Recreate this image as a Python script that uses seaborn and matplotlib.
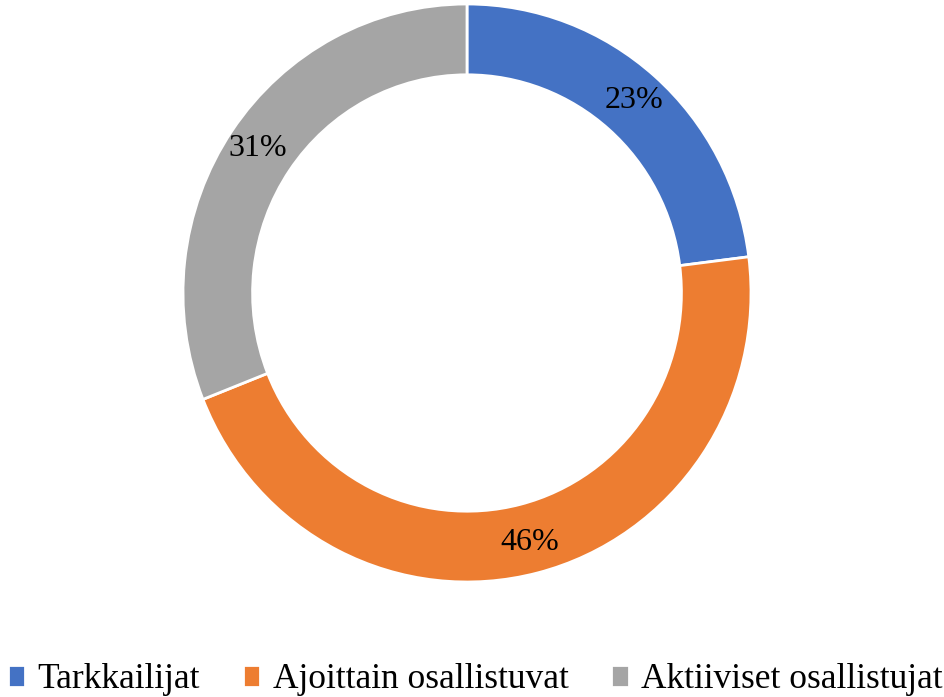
import matplotlib
matplotlib.use("Agg")
import matplotlib.pyplot as plt
import seaborn as sns

labels = ["Tarkkailijat", "Ajoittain osallistuvat", "Aktiiviset osallistujat"]
shares = [23, 46, 31]
colors = ["#4472C4", "#ED7D31", "#A5A5A5"]

sns.set_style("white")
plt.rcParams["font.family"] = ["Liberation Serif", "DejaVu Serif"]
plt.rcParams["text.color"] = "black"

fig = plt.figure(figsize=(9.45, 6.97), dpi=100)
# axes box holding the donut (pixel extents from the reference)
ax = fig.add_axes([183 / 945, (697 - 582) / 697, 568 / 945, 578 / 697])

wedges, texts, autotexts = ax.pie(
    shares, colors=colors, startangle=90, counterclock=False,
    autopct="%d%%", pctdistance=0.89, radius=1.0,
    wedgeprops=dict(width=0.245, edgecolor="white", linewidth=2),
    textprops=dict(fontsize=23, color="black"))
ax.set_aspect("auto")
ax.set_xlim(-1, 1)
ax.set_ylim(-1, 1)
ax.axis("off")

fig.legend(wedges, labels, loc="lower center", bbox_to_anchor=(0.503, -0.045),
           ncol=3, frameon=False, fontsize=25.5, handlelength=0.5,
           handleheight=0.6, handletextpad=0.35, columnspacing=1.2)

fig.savefig("out.png", dpi=100)
